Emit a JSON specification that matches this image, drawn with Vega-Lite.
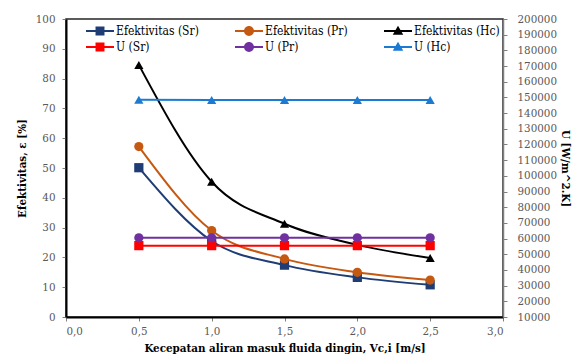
{
  "$schema": "https://vega.github.io/schema/vega-lite/v6.json",
  "width": 437,
  "height": 298,
  "autosize": {"type": "none"},
  "padding": {"left": 66, "top": 19, "right": 71, "bottom": 41},
  "background": "white",
  "config": {
    "locale": {"number": {"decimal": ",", "thousands": ".", "grouping": [3], "currency": ["", ""]}},
    "font": "DejaVu Serif Condensed, DejaVu Serif",
    "view": {"stroke": "#262626", "strokeWidth": 1.5},
    "axis": {
      "grid": false,
      "labelFont": "DejaVu Serif Condensed, DejaVu Serif",
      "labelFontSize": 11.5,
      "labelColor": "#595959",
      "titleFont": "DejaVu Serif Condensed, DejaVu Serif",
      "titleFontSize": 11.5,
      "titleFontWeight": "bold",
      "titleColor": "black",
      "tickColor": "#808080",
      "tickSize": 4,
      "domainColor": "black"
    },
    "legend": {
      "orient": "none",
      "direction": "horizontal",
      "legendX": 27,
      "legendY": 5,
      "columns": 3,
      "columnPadding": 36,
      "rowPadding": 3,
      "padding": 0,
      "labelFont": "DejaVu Serif Condensed, DejaVu Serif",
      "labelFontSize": 12,
      "labelColor": "black",
      "labelOffset": 9,
      "symbolSize": 196,
      "symbolStrokeWidth": 0,
      "symbolOpacity": 1
    }
  },
  "layer": [
    {
      "data": {
        "values": [
          {"series": "Efektivitas (Sr)", "v": 0.5, "eff": 50.1},
          {"series": "Efektivitas (Sr)", "v": 1.0, "eff": 25.5},
          {"series": "Efektivitas (Sr)", "v": 1.5, "eff": 17.4},
          {"series": "Efektivitas (Sr)", "v": 2.0, "eff": 13.3},
          {"series": "Efektivitas (Sr)", "v": 2.5, "eff": 10.8},
          {"series": "Efektivitas (Pr)", "v": 0.5, "eff": 57.2},
          {"series": "Efektivitas (Pr)", "v": 1.0, "eff": 29.0},
          {"series": "Efektivitas (Pr)", "v": 1.5, "eff": 19.5},
          {"series": "Efektivitas (Pr)", "v": 2.0, "eff": 15.0},
          {"series": "Efektivitas (Pr)", "v": 2.5, "eff": 12.4},
          {"series": "Efektivitas (Hc)", "v": 0.5, "eff": 84.6},
          {"series": "Efektivitas (Hc)", "v": 1.0, "eff": 45.4},
          {"series": "Efektivitas (Hc)", "v": 1.5, "eff": 31.3},
          {"series": "Efektivitas (Hc)", "v": 2.0, "eff": 24.2},
          {"series": "Efektivitas (Hc)", "v": 2.5, "eff": 19.8}
        ]
      },
      "encoding": {
        "x": {
          "field": "v",
          "type": "quantitative",
          "scale": {"domain": [0, 3]},
          "axis": {
            "values": [0, 0.5, 1, 1.5, 2, 2.5, 3],
            "format": ".1f",
            "title": "Kecepatan aliran  masuk fluida dingin, Vc,i [m/s]",
            "domainWidth": 2,
            "labelPadding": 4,
            "titlePadding": 6
          }
        },
        "y": {
          "field": "eff",
          "type": "quantitative",
          "scale": {"domain": [0, 100]},
          "axis": {
            "values": [0, 10, 20, 30, 40, 50, 60, 70, 80, 90, 100],
            "title": "Efektivitas, ε [%]",
            "domainWidth": 2,
            "labelPadding": 7,
            "titlePadding": 8
          }
        },
        "color": {
          "field": "series",
          "type": "nominal",
          "scale": {
            "domain": ["Efektivitas (Sr)", "Efektivitas (Pr)", "Efektivitas (Hc)", "U (Sr)", "U (Pr)", "U (Hc)"],
            "range": ["#1f3c74", "#c65911", "#000000", "#ff0000", "#7030a0", "#1b7bd3"]
          },
          "legend": {"title": null}
        }
      },
      "layer": [
        {"mark": {"type": "line", "interpolate": "monotone", "strokeWidth": 2}},
        {
          "transform": [{"filter": "test(/Sr/, datum.series)"}],
          "mark": {"type": "point", "shape": "square", "filled": true, "opacity": 1, "size": 85}
        },
        {
          "transform": [{"filter": "test(/Pr/, datum.series)"}],
          "mark": {"type": "point", "shape": "circle", "filled": true, "opacity": 1, "size": 85}
        },
        {
          "transform": [{"filter": "test(/Hc/, datum.series)"}],
          "mark": {"type": "point", "shape": "triangle-up", "filled": true, "opacity": 1, "size": 85}
        },
        {
          "data": {"values": []},
          "mark": {"type": "point", "filled": true, "opacity": 1},
          "encoding": {
            "shape": {
              "field": "series",
              "type": "nominal",
              "scale": {
                "domain": ["Efektivitas (Sr)", "Efektivitas (Pr)", "Efektivitas (Hc)", "U (Sr)", "U (Pr)", "U (Hc)"],
                "range": [
                  "M-2,-0.14H2V0.14H-2Z M-0.64,-0.64H0.64V0.64H-0.64Z",
                  "M-2,-0.14H2V0.14H-2Z M0.71,0A0.71,0.71 0 1,1 -0.71,0A0.71,0.71 0 1,1 0.71,0Z",
                  "M-2,-0.14H2V0.14H-2Z M0,-0.75L0.75,0.55H-0.75Z",
                  "M-2,-0.14H2V0.14H-2Z M-0.64,-0.64H0.64V0.64H-0.64Z",
                  "M-2,-0.14H2V0.14H-2Z M0.71,0A0.71,0.71 0 1,1 -0.71,0A0.71,0.71 0 1,1 0.71,0Z",
                  "M-2,-0.14H2V0.14H-2Z M0,-0.75L0.75,0.55H-0.75Z"
                ]
              },
              "legend": {"title": null}
            }
          }
        }
      ]
    },
    {
      "data": {
        "values": [
          {"series": "U (Sr)", "v": 0.5, "u": 55500},
          {"series": "U (Sr)", "v": 1.0, "u": 55500},
          {"series": "U (Sr)", "v": 1.5, "u": 55500},
          {"series": "U (Sr)", "v": 2.0, "u": 55500},
          {"series": "U (Sr)", "v": 2.5, "u": 55500},
          {"series": "U (Pr)", "v": 0.5, "u": 60500},
          {"series": "U (Pr)", "v": 1.0, "u": 60500},
          {"series": "U (Pr)", "v": 1.5, "u": 60500},
          {"series": "U (Pr)", "v": 2.0, "u": 60500},
          {"series": "U (Pr)", "v": 2.5, "u": 60500},
          {"series": "U (Hc)", "v": 0.5, "u": 148500},
          {"series": "U (Hc)", "v": 1.0, "u": 148400},
          {"series": "U (Hc)", "v": 1.5, "u": 148400},
          {"series": "U (Hc)", "v": 2.0, "u": 148300},
          {"series": "U (Hc)", "v": 2.5, "u": 148300}
        ]
      },
      "encoding": {
        "x": {"field": "v", "type": "quantitative"},
        "y": {
          "field": "u",
          "type": "quantitative",
          "scale": {"domain": [10000, 200000]},
          "axis": {
            "orient": "right",
            "values": [10000, 20000, 30000, 40000, 50000, 60000, 70000, 80000, 90000, 100000, 110000, 120000, 130000, 140000, 150000, 160000, 170000, 180000, 190000, 200000],
            "format": "d",
            "title": "U [W/m^2.K]",
            "domainColor": "#7f7f7f",
            "domainWidth": 1.5,
            "labelPadding": 10,
            "titlePadding": 3
          }
        },
        "color": {"field": "series", "type": "nominal", "legend": {"title": null}}
      },
      "layer": [
        {"mark": {"type": "line", "strokeWidth": 2}},
        {
          "transform": [{"filter": "test(/Sr/, datum.series)"}],
          "mark": {"type": "point", "shape": "square", "filled": true, "opacity": 1, "size": 85}
        },
        {
          "transform": [{"filter": "test(/Pr/, datum.series)"}],
          "mark": {"type": "point", "shape": "circle", "filled": true, "opacity": 1, "size": 85}
        },
        {
          "transform": [{"filter": "test(/Hc/, datum.series)"}],
          "mark": {"type": "point", "shape": "triangle-up", "filled": true, "opacity": 1, "size": 85}
        }
      ]
    }
  ],
  "resolve": {"scale": {"y": "independent"}}
}
